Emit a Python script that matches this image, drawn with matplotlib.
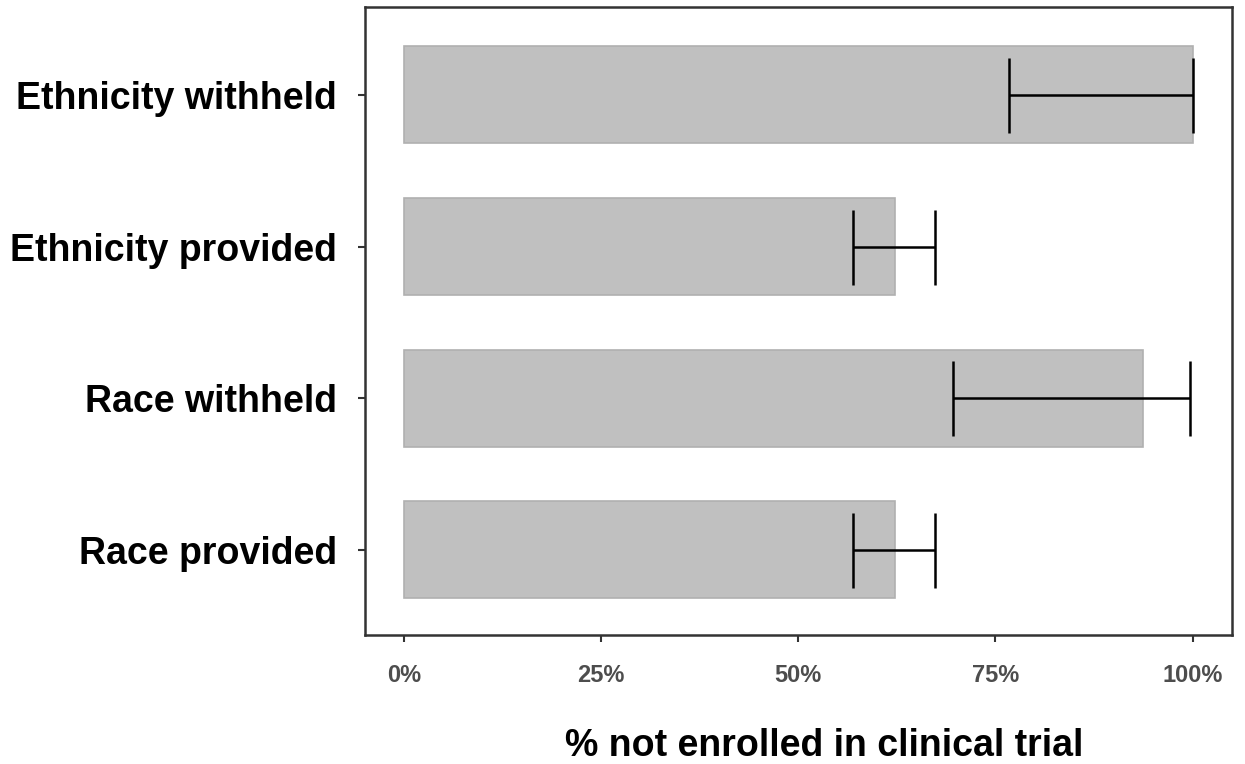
import matplotlib
matplotlib.use("Agg")
import matplotlib.pyplot as plt
import numpy as np

# data
categories = ['Ethnicity withheld', 'Ethnicity provided', 'Race withheld', 'Race provided']
pct_not_enrolled = [100.0, 62.3, 93.7, 62.3]
ci_low = [76.7, 56.9, 69.6, 56.9]
ci_high = [100.0, 67.3, 99.7, 67.3]
xticks = [0, 25, 50, 75, 100]
xtick_labels = ['0%', '25%', '50%', '75%', '100%']

fig = plt.figure(figsize=(12.45, 7.64), dpi=100)
ax = fig.add_axes([0.293, 0.169, 0.6965, 0.822])

y = np.arange(len(categories))
vals = np.array(pct_not_enrolled)
err = [vals - np.array(ci_low), np.array(ci_high) - vals]

ax.barh(y, vals, height=0.64, color='#c0c0c0', edgecolor='#b0b0b0', linewidth=1.2, zorder=2)
ax.errorbar(vals, y, xerr=err, fmt='none', ecolor='black', elinewidth=1.8,
            capsize=27, capthick=1.8, zorder=3)

ax.set_xlim(-5, 105)
ax.set_ylim(3.56, -0.58)
ax.set_yticks(y)
ax.set_yticklabels(categories, fontsize=27, fontweight='bold', family='Liberation Sans', color='black')
ax.set_xticks(xticks)
ax.set_xticklabels(xtick_labels, fontsize=17, fontweight='bold',
                   family=['Liberation Sans Narrow', 'Liberation Sans'], color='#4d4d4d')
ax.tick_params(axis='y', length=5, width=1.5, color='#333333', pad=15)
ax.tick_params(axis='x', length=5, width=1.5, color='#333333', pad=16)

for s in ax.spines.values():
    s.set_linewidth(1.8)
    s.set_color('#333333')

ax.set_xlabel('% not enrolled in clinical trial', fontsize=27, fontweight='bold',
              family='Liberation Sans', color='black')
ax.xaxis.set_label_coords(0.53, -0.148)

fig.savefig('out.png', dpi=100)
